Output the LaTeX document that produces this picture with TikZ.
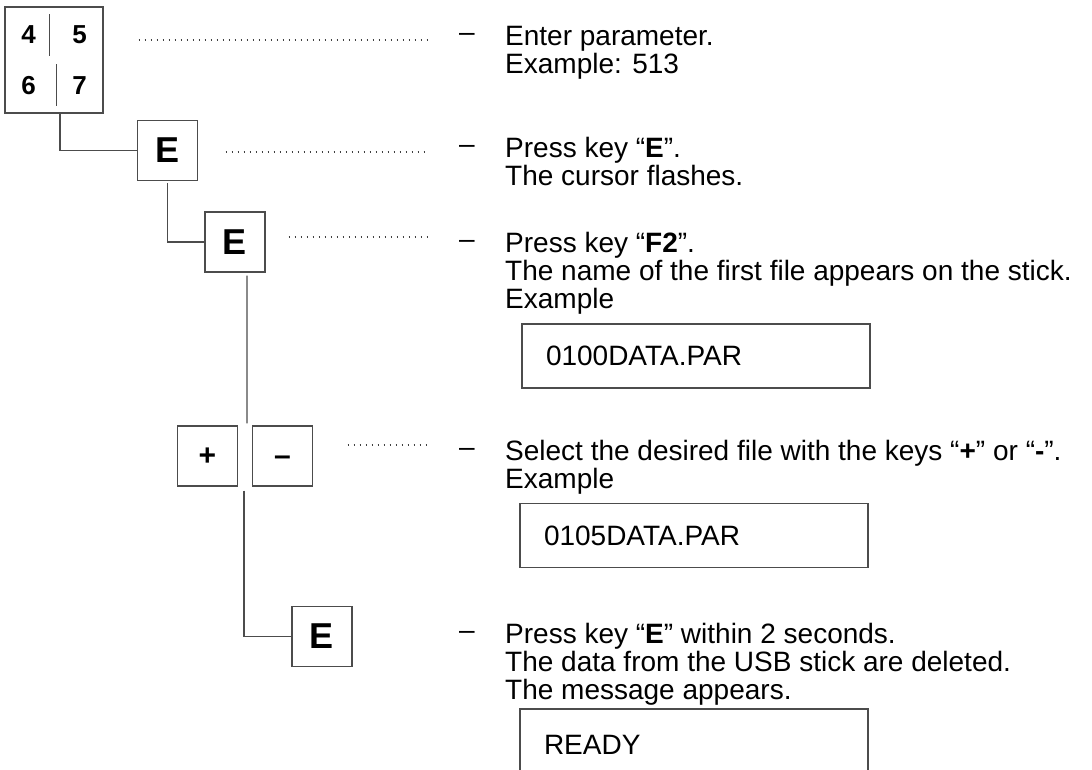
\documentclass[tikz,border=0pt]{standalone}
\usepackage{fontspec}
\setmainfont{Liberation Sans}
\usetikzlibrary{matrix,calc}

\begin{document}
\begin{tikzpicture}[x=1pt,y=-1pt,
	keybox/.style={rectangle,draw=black!70,line width=1.4pt,minimum size=60pt,inner sep=0pt,font=\bfseries\fontsize{36}{36}\selectfont},
	signbox/.style={keybox,font=\bfseries\fontsize{30}{30}\selectfont,text depth=0pt},
	wire/.style={draw=black!70,line width=1.4pt},
	leader/.style={draw=black!75,line width=1.2pt,dash pattern=on 1.2pt off 4.8pt},
	dashmark/.style={anchor=base west,inner sep=0pt,font=\fontsize{28}{28}\selectfont},
	steptext/.style={anchor=base west,inner sep=0pt,align=left,font=\fontsize{28}{28}\selectfont},
	display/.style={rectangle,draw=black!70,line width=1.2pt,minimum width=348pt,minimum height=64pt,text width=300pt,inner xsep=24pt,align=left,font=\fontsize{28}{28}\selectfont},
	]
	\clip (0,0) rectangle (1092,769);
	\useasboundingbox (0,0) rectangle (1092,769);

	% keypad
	\matrix [matrix of nodes,draw=black!70,line width=1.4pt,inner xsep=0pt,inner ysep=3pt,column sep=4pt,
	nodes={minimum width=47pt,minimum height=50pt,inner sep=0pt,font=\bfseries\fontsize{26}{26}\selectfont},
	] (keys) at (54,60)
	{
	4 & 5\\
	6 & 7\\
	};
	\draw[wire] ([shift={(-3,5)}]keys-1-1.north east) -- ([shift={(-3,-5)}]keys-1-1.south east);
	\draw[wire] ([shift={(1,5)}]keys-2-2.north west) -- ([shift={(1,-5)}]keys-2-2.south west);

	% keys
	\node[keybox] (e1) at (167.5,150.5) {E};
	\node[keybox] (e2) at (235,242) {E};
	\node[signbox,text height=19pt] (plus) at (207.5,456) {+};
	\node[signbox,text height=19pt] (minus) at (282.5,456) {–};
	\node[keybox] (e3) at (322,636.5) {E};

	% wires
	\coordinate (gapT) at ($(plus.north east)!0.5!(minus.north west)$);
	\coordinate (gapB) at ($(plus.south east)!0.5!(minus.south west)$);
	\draw[wire] ([shift={(6,0)}]keys.south) |- (e1.west);
	\draw[wire] ([shift={(0,2)}]e1.south) |- (e2.west);
	\draw[wire] ([shift={(12,3)}]e2.south) -- ([shift={(2,-2)}]gapT);
	\draw[wire] ([shift={(-1,4)}]gapB) |- (e3.west);

	% leaders
	\coordinate (lend1) at (427,40);
	\coordinate (lend2) at (427,152);
	\coordinate (lend3) at (427,237);
	\coordinate (lend4) at (427,445);
	\draw[leader] ($(keys.east |- lend1)+(35,0)$) -- (lend1);
	\draw[leader] ($(e1.east |- lend2)+(27.5,0)$) -- (lend2);
	\draw[leader] ($(e2.east |- lend3)+(23,0)$) -- (lend3);
	\draw[leader] ($(minus.east |- lend4)+(34.5,0)$) -- (lend4);

	% steps (multi-line texts sit on their last baseline)
	\node[dashmark] (d1) at (459,45) {\raisebox{4pt}{–}};
	\node[dashmark] (d2) at (459,157) {\raisebox{4pt}{–}};
	\node[dashmark] (d3) at (459,252) {\raisebox{4pt}{–}};
	\node[dashmark] (d4) at (459,460) {\raisebox{4pt}{–}};
	\node[dashmark] (d5) at (459,643) {\raisebox{4pt}{–}};

	\node[steptext] (t1) at (505,73) {Enter parameter.\\Example: 513};
	\node[steptext] (t2) at (505,185) {Press key “\textbf{E}”.\\The cursor flashes.};
	\node[steptext] (t3) at (505,308) {Press key “\textbf{F2}”.\\The name of the first file appears on the stick.\\Example};
	\node[display] (box1) at (696,356) {0100DATA.PAR};
	\node[steptext] (t4) at (505,488) {Select the desired file with the keys “\textbf{+}” or “\textbf{-}”.\\Example};
	\node[display] (box2) at (694,535.5) {0105DATA.PAR};
	\node[steptext] (t5) at (505,699) {Press key “\textbf{E}” within 2 seconds.\\The data from the USB stick are deleted.\\The message appears.};
	\node[display,minimum height=72pt] (box3) at (694,745) {READY};
\end{tikzpicture}
\end{document}
